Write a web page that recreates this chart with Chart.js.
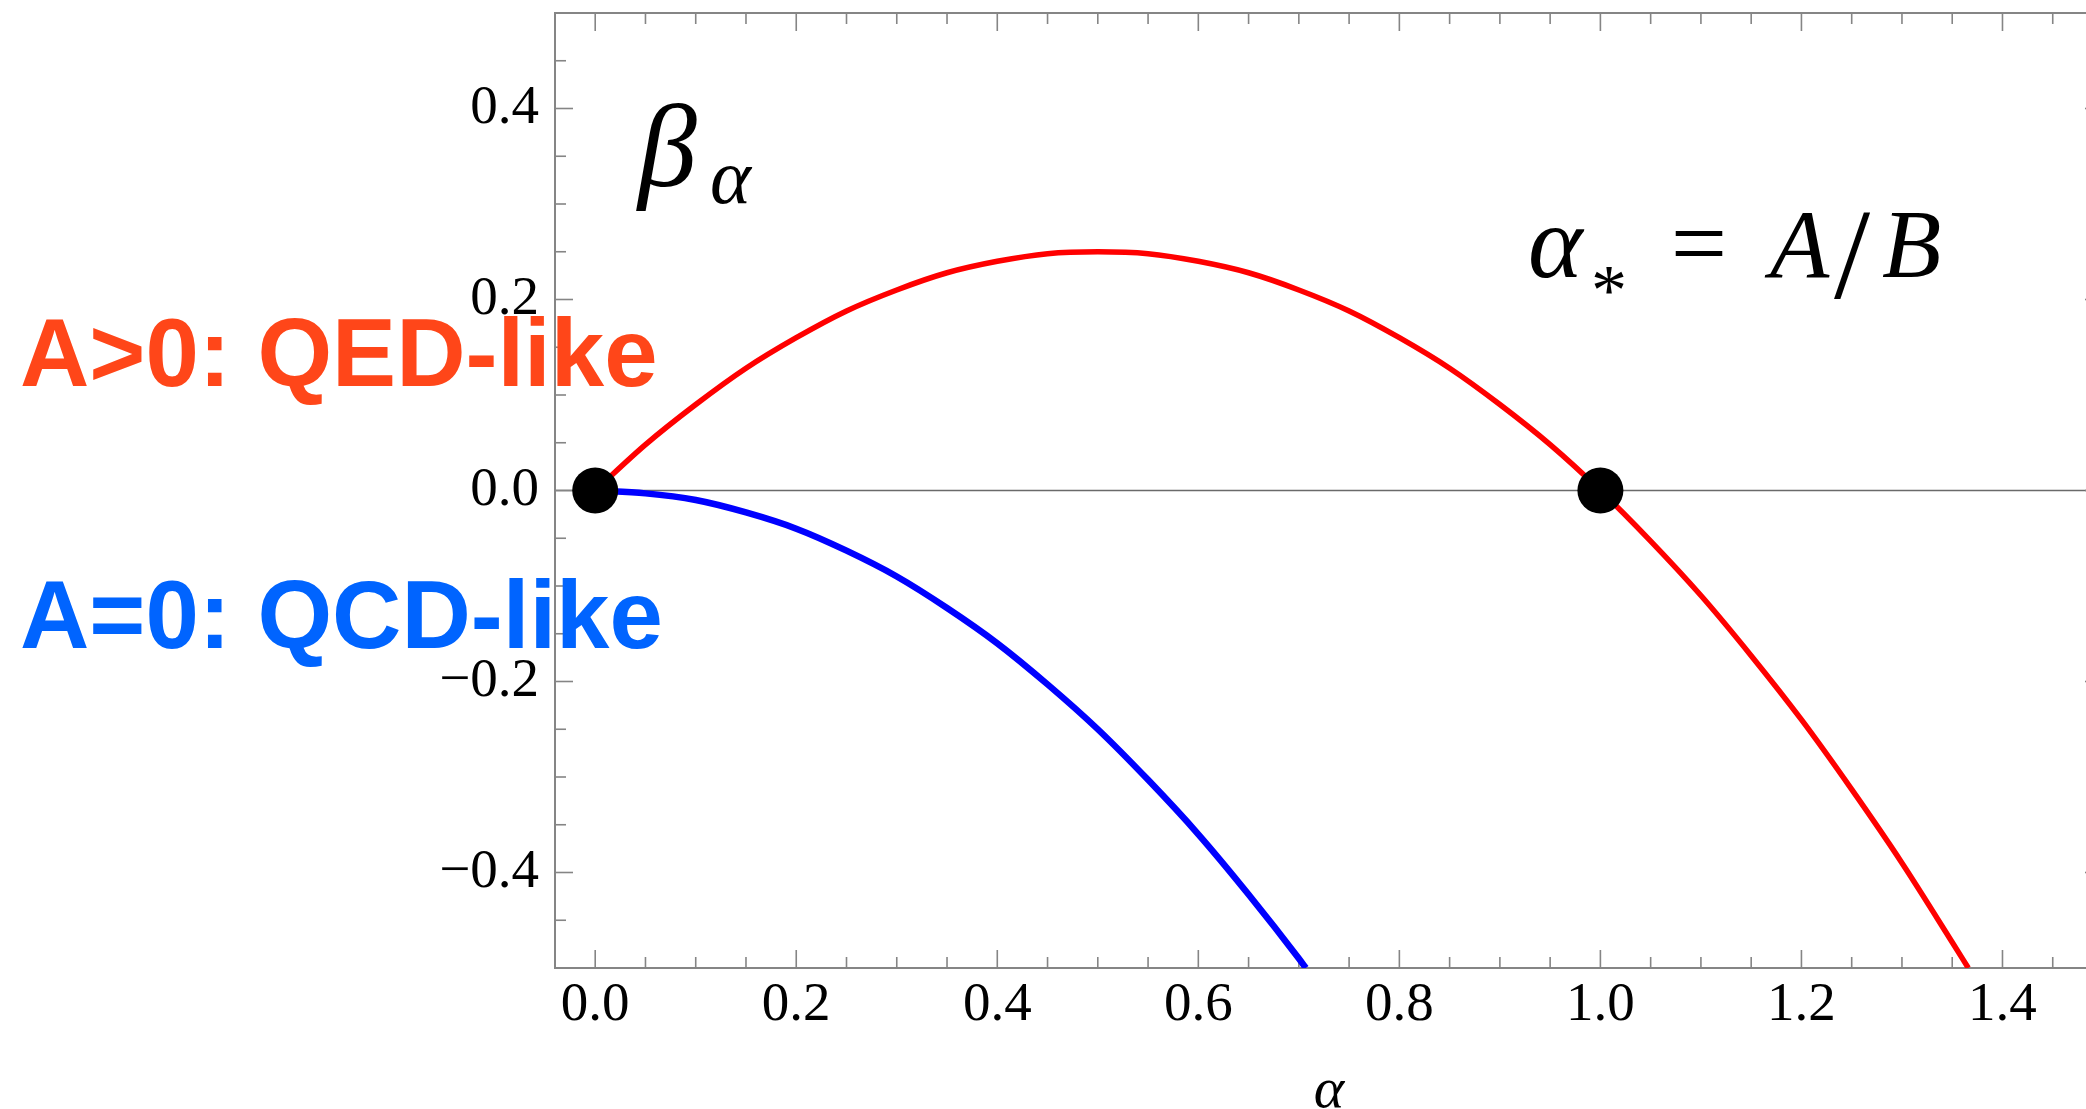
<!DOCTYPE html>
<html>
<head>
<meta charset="utf-8">
<title>beta function</title>
<script src="https://cdn.jsdelivr.net/npm/chart.js@4.4.0/dist/chart.umd.min.js"></script>
<style>
  html, body { margin: 0; padding: 0; background: #fff; overflow: hidden; }
  #wrap { width: 2086px; height: 1109px; overflow: hidden; position: relative; }
  #plot { position: absolute; left: 0; top: 0; }
</style>
</head>
<body>
<div id="wrap"><canvas id="plot" width="2110" height="1109"></canvas></div>
<script>
// QED-like curve (A > 0)
const alphaRed = [0, 0.05, 0.1, 0.15, 0.2, 0.25, 0.3, 0.35, 0.4, 0.45, 0.5, 0.55, 0.6, 0.65,
  0.7, 0.75, 0.8, 0.85, 0.9, 0.95, 1.0, 1.05, 1.1, 1.15, 1.2, 1.25, 1.3, 1.35, 1.366];
const betaRed = [0, 0.048, 0.09, 0.128, 0.16, 0.188, 0.21, 0.228, 0.24, 0.248, 0.25, 0.248, 0.24, 0.228,
  0.21, 0.188, 0.16, 0.128, 0.09, 0.048, 0, -0.053, -0.11, -0.173, -0.24, -0.313, -0.39, -0.473, -0.5];

// QCD-like curve (A = 0)
const alphaBlue = [0, 0.05, 0.1, 0.15, 0.2, 0.25, 0.3, 0.35, 0.4, 0.45, 0.5, 0.55, 0.6, 0.65, 0.7, 0.707];
const betaBlue = [0, -0.003, -0.01, -0.023, -0.04, -0.063, -0.09, -0.123, -0.16, -0.203, -0.25, -0.303, -0.36, -0.423, -0.49, -0.5];

// fixed points
const fixedAlpha = [0, 1];
const fixedBeta = [0, 0];

// frame ticks
const xMajor = [0, 0.2, 0.4, 0.6, 0.8, 1.0, 1.2, 1.4];
const xMinor = [0.05, 0.1, 0.15, 0.25, 0.3, 0.35, 0.45, 0.5, 0.55, 0.65, 0.7, 0.75, 0.85, 0.9, 0.95,
  1.05, 1.1, 1.15, 1.25, 1.3, 1.35, 1.45];
const yMajor = [-0.4, -0.2, 0, 0.2, 0.4];
const yMinor = [-0.5, -0.45, -0.35, -0.3, -0.25, -0.15, -0.1, -0.05, 0.05, 0.1, 0.15, 0.25, 0.3, 0.35, 0.45, 0.5];

const SERIF = "'Liberation Serif', 'Times New Roman', serif";
const SANS = "'Liberation Sans', Arial, sans-serif";

const toPoints = (xs, ys) => xs.map((x, i) => ({ x, y: ys[i] }));

function strokeLine(ctx, x1, y1, x2, y2) {
  ctx.beginPath();
  ctx.moveTo(x1, y1);
  ctx.lineTo(x2, y2);
  ctx.stroke();
}

// frame with inward ticks on all four sides, plus the beta = 0 line
const framePlugin = {
  id: "frame",
  beforeDatasetsDraw(chart) {
    const { ctx, chartArea: a, scales: { x, y } } = chart;
    ctx.save();
    ctx.lineCap = "butt";

    const y0 = y.getPixelForValue(0);
    ctx.strokeStyle = "#6a6a6a";
    ctx.lineWidth = 1.5;
    strokeLine(ctx, a.left, y0, a.right, y0);

    ctx.strokeStyle = "#858585";
    ctx.lineWidth = 1.6;
    const tick = (vals, len) => {
      vals.forEach(v => {
        const px = x.getPixelForValue(v);
        strokeLine(ctx, px, a.bottom, px, a.bottom - len);
        strokeLine(ctx, px, a.top, px, a.top + len);
      });
    };
    const ytick = (vals, len) => {
      vals.forEach(v => {
        const py = y.getPixelForValue(v);
        strokeLine(ctx, a.left, py, a.left + len, py);
        strokeLine(ctx, a.right, py, a.right - len, py);
      });
    };
    tick(xMajor, 18);
    tick(xMinor, 11);
    ytick(yMajor, 18);
    ytick(yMinor, 11);

    ctx.lineWidth = 2;
    ctx.strokeRect(a.left, a.top, a.right - a.left, a.bottom - a.top);
    ctx.restore();
  },
  afterDraw(chart) {
    const { ctx, scales: { x } } = chart;
    ctx.save();
    ctx.textBaseline = "alphabetic";
    ctx.textAlign = "left";

    // regime labels
    ctx.font = `bold 96px ${SANS}`;
    ctx.fillStyle = "#ff4619";
    ctx.fillText("A>0: QED-like", 20, 386);
    ctx.fillStyle = "#0064ff";
    ctx.fillText("A=0: QCD-like", 20, 648);

    ctx.fillStyle = "#000";
    // beta_alpha
    ctx.font = `italic 118px ${SERIF}`;
    ctx.fillText("\u03b2", 638, 186);
    ctx.font = `italic 78px ${SERIF}`;
    ctx.fillText("\u03b1", 710, 203);

    // alpha_* = A/B
    ctx.font = `italic 104px ${SERIF}`;
    ctx.fillText("\u03b1", 1528, 277);
    ctx.font = `72px ${SERIF}`;
    ctx.fillText("*", 1591, 314);
    ctx.font = `100px ${SERIF}`;
    ctx.textAlign = "center";
    ctx.fillText("=", 1699, 277);
    ctx.font = `italic 97px ${SERIF}`;
    ctx.textAlign = "left";
    ctx.fillText("A", 1770, 277);
    ctx.font = `130px ${SERIF}`;
    ctx.fillText("/", 1834, 298);
    ctx.font = `italic 97px ${SERIF}`;
    ctx.fillText("B", 1882, 277);

    // axis title
    ctx.font = `italic 58px ${SERIF}`;
    ctx.textAlign = "center";
    ctx.fillText("\u03b1", x.getPixelForValue(0.73), 1107);
    ctx.restore();
  }
};

const fmt = v => (v < 0 ? "\u2212" : "") + Math.abs(v).toFixed(1);

new Chart(document.getElementById("plot"), {
  type: "line",
  data: {
    datasets: [
      {
        label: "fixed points",
        data: toPoints(fixedAlpha, fixedBeta),
        showLine: false,
        pointRadius: 23,
        pointBackgroundColor: "#000",
        pointBorderWidth: 0,
        clip: false,
      },
      {
        label: "A>0",
        data: toPoints(alphaRed, betaRed),
        borderColor: "#ff0000",
        borderWidth: 5.5,
        pointRadius: 0,
        cubicInterpolationMode: "monotone",
      },
      {
        label: "A=0",
        data: toPoints(alphaBlue, betaBlue),
        borderColor: "#0000ff",
        borderWidth: 6.5,
        pointRadius: 0,
        cubicInterpolationMode: "monotone",
      },
    ],
  },
  options: {
    responsive: false,
    animation: false,
    layout: { autoPadding: false, padding: { left: 0, top: 13, right: 7, bottom: 0 } },
    plugins: { legend: { display: false }, tooltip: { enabled: false } },
    scales: {
      x: {
        type: "linear",
        min: -0.04,
        max: 1.5,
        afterBuildTicks: s => { s.ticks = xMajor.map(v => ({ value: v })); },
        afterFit: s => { s.height = 141; s.paddingLeft = 0; s.paddingRight = 0; },
        grid: { display: false, drawTicks: false },
        border: { display: false },
        ticks: {
          color: "#000",
          font: { family: SERIF, size: 55 },
          padding: 5,
          maxRotation: 0,
          autoSkip: false,
          callback: fmt,
        },
      },
      y: {
        type: "linear",
        min: -0.5,
        max: 0.5,
        afterBuildTicks: s => { s.ticks = yMajor.map(v => ({ value: v })); },
        afterFit: s => { s.width = 555; s.paddingTop = 0; s.paddingBottom = 0; },
        grid: { display: false, drawTicks: false },
        border: { display: false },
        ticks: {
          color: "#000",
          font: { family: SERIF, size: 55 },
          padding: 16,
          autoSkip: false,
          callback: fmt,
        },
      },
    },
  },
  plugins: [framePlugin],
});
</script>
</body>
</html>
